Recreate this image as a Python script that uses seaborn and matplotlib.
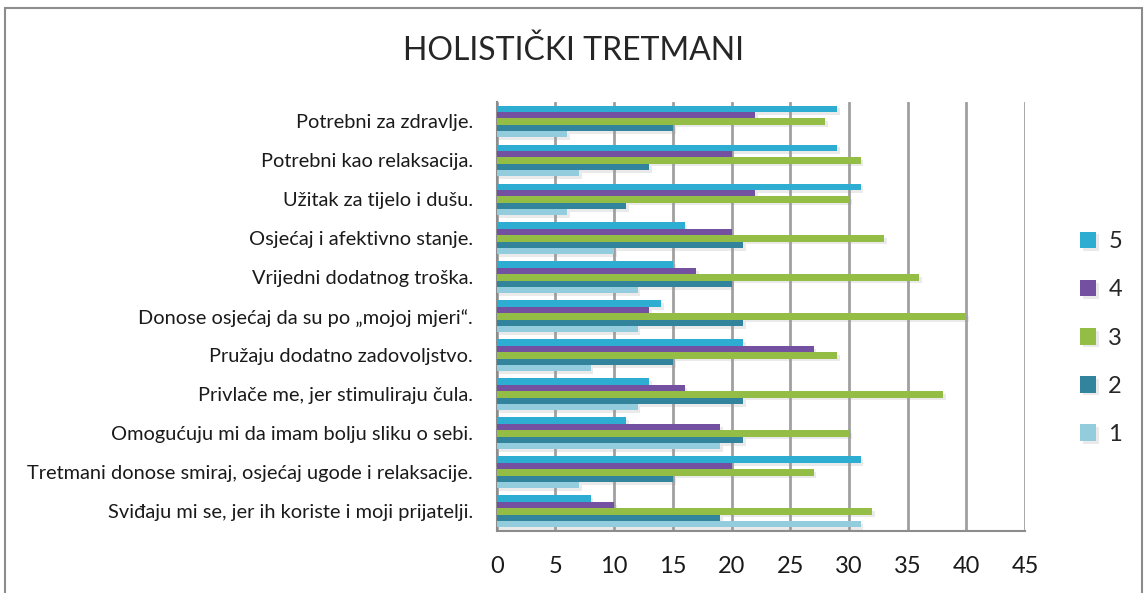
import matplotlib
matplotlib.use("Agg")
import matplotlib.pyplot as plt
import matplotlib.patheffects as pe
from matplotlib.patches import Rectangle
import seaborn as sns
import pandas as pd

categories = [
    "Potrebni za zdravlje.",
    "Potrebni kao relaksacija.",
    "Užitak za tijelo i dušu.",
    "Osjećaj i afektivno stanje.",
    "Vrijedni dodatnog troška.",
    "Donose osjećaj da su po „mojoj mjeri“.",
    "Pružaju dodatno zadovoljstvo.",
    "Privlače me, jer stimuliraju čula.",
    "Omogućuju mi da imam bolju sliku o sebi.",
    "Tretmani donose smiraj, osjećaj ugode i relaksacije.",
    "Sviđaju mi se, jer ih koriste i moji prijatelji.",
]
series_names = ["5", "4", "3", "2", "1"]
s5 = [29, 29, 31, 16, 15, 14, 21, 13, 11, 31, 8]
s4 = [22, 20, 22, 20, 17, 13, 27, 16, 19, 20, 10]
s3 = [28, 31, 30, 33, 36, 40, 29, 38, 30, 27, 32]
s2 = [15, 13, 11, 21, 20, 21, 15, 21, 21, 15, 19]
s1 = [6, 7, 6, 10, 12, 12, 8, 12, 19, 7, 31]
x_ticks = [0, 5, 10, 15, 20, 25, 30, 35, 40, 45]
title = "HOLISTIČKI TRETMANI"

colors = {"5": "#2EADD3", "4": "#7350A0", "3": "#93BD45", "2": "#31849B", "1": "#93CDDD"}

rows = []
for name, vals in zip(series_names, [s5, s4, s3, s2, s1]):
    for c, v in zip(categories, vals):
        rows.append({"cat": c, "series": name, "value": v})
df = pd.DataFrame(rows)

sns.set_theme(style="white")
plt.rcParams["font.family"] = ["Lato", "DejaVu Sans"]

fig = plt.figure(figsize=(11.47, 5.93), dpi=100)
ax = fig.add_axes([0.433, 0.1046, 0.8937 - 0.433, 0.828 - 0.1046])

sns.barplot(data=df, y="cat", x="value", hue="series", hue_order=series_names,
            order=categories, palette=colors, orient="h", width=0.82,
            saturation=1, ax=ax, zorder=3, linewidth=0, edgecolor="none")

for p in ax.patches:
    p.set_linewidth(0)
    p.set_path_effects([pe.SimplePatchShadow(offset=(2, -2), shadow_rgbFace="#9a9a9a", alpha=0.2),
                        pe.Normal()])

ax.set_xlim(0, 45)
ax.set_ylim(10.5, -0.5)
ax.set_xticks(x_ticks)
ax.set_xticklabels([str(t) for t in x_ticks], fontsize=17, color="#1a1a1a")
ax.tick_params(axis="x", which="major", length=4, width=1, color="#8c8c8c", pad=14, direction="out")
ax.tick_params(axis="y", length=0, pad=17, labelsize=14.4, labelcolor="#1a1a1a")
ax.set_xlabel("")
ax.set_ylabel("")
ax.grid(False)
for t in x_ticks:
    ax.axvline(t, color="#A0A0A0", lw=2, zorder=1)
for s in ["top", "right"]:
    ax.spines[s].set_visible(False)
ax.spines["left"].set_color("#8c8c8c")
ax.spines["bottom"].set_color("#8c8c8c")
ax.spines["left"].set_linewidth(1.5)
ax.spines["bottom"].set_linewidth(1.5)

handles, labels = ax.get_legend_handles_labels()
ax.legend_.remove()
leg = fig.legend(handles, labels, loc="center left", bbox_to_anchor=(0.923, 0.43),
                 frameon=False, fontsize=17, handlelength=0.7, handleheight=0.7,
                 handletextpad=0.5, labelspacing=1.15)

fig.text(0.5, 0.915, title, ha="center", va="center", fontsize=23, color="#262626")

fig.patches.append(Rectangle((0.004, -0.1), 0.992, 1.087, transform=fig.transFigure,
                             fill=False, edgecolor="#8c8c8c", lw=1.5))

fig.savefig("out.png", dpi=100, facecolor="white")
